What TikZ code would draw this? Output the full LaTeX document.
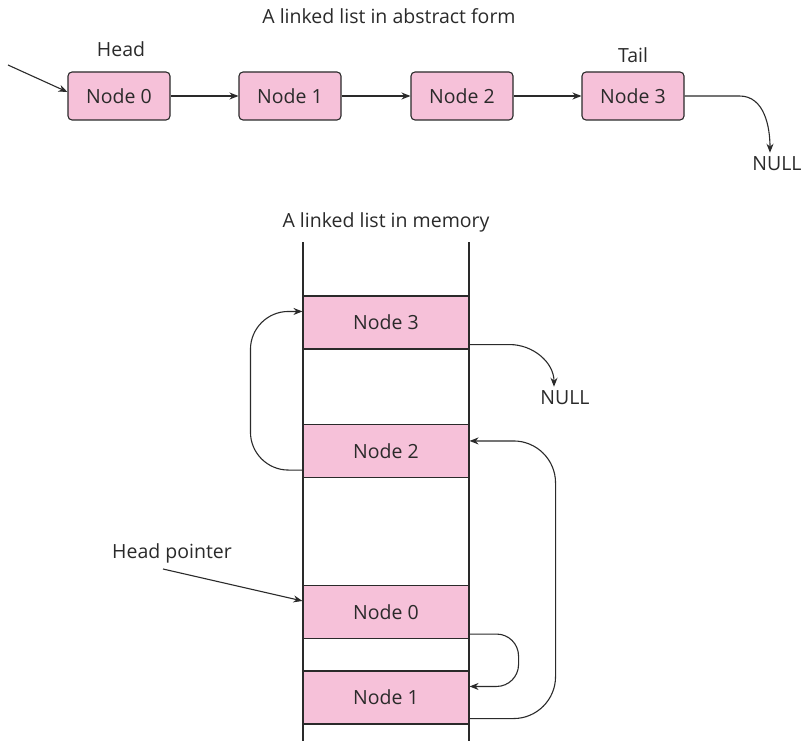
\documentclass[tikz,border=0pt]{standalone}
\usepackage{fontspec}
\setmainfont{Open Sans}
\usepackage{xcolor}
\usetikzlibrary{arrows.meta,positioning}
\definecolor{listpink}{HTML}{F6C1D9}
\definecolor{listline}{HTML}{2A2A2A}
\tikzset{
  listbox/.style={draw=listline,fill=listpink,rounded corners=4pt,line width=1.1pt,
    minimum width=102pt,minimum height=48pt,inner sep=0pt},
  membox/.style={draw=listline,fill=listpink,line width=1.1pt,
    minimum width=166pt,minimum height=53pt,inner sep=0pt},
  link/.style={draw=listline,line width=1.1pt,-{Stealth[length=9pt,width=7pt]}},
  lbl/.style={inner sep=1pt}
}
\begin{document}
\begin{tikzpicture}[x=1pt,y=-1pt,font=\fontsize{19.5}{22}\selectfont,text=listline]
\useasboundingbox (0,0) rectangle (805,741);
% abstract form
\node[lbl] (ttlA) at (389,16) {A linked list in abstract form};
\node[listbox] (n0) at (119,96) {Node 0};
\node[listbox] (n1) at (290,96) {Node 1};
\node[listbox] (n2) at (462,96) {Node 2};
\node[listbox] (n3) at (633,96) {Node 3};
\node[lbl] (head) at (121,49) {Head};
\node[lbl] (tail) at (633,55) {Tail};
\node[lbl] (nullA) at (777,164) {NULL};
\coordinate (hin) at (8,65);
\draw[link] (hin) -- ([yshift=4pt]n0.west);
\draw[link] (n0) -- (n1);
\draw[link] (n1) -- (n2);
\draw[link] (n2) -- (n3);
\draw[link] (n3.east) -- ++(55,0) to[out=0,in=90] ([xshift=-7pt,yshift=3pt]nullA.north);
% in memory
\node[lbl] (ttlB) at (386,222) {A linked list in memory};
\coordinate (wl) at (303,242);
\coordinate (wr) at (469,242);
\node[membox] (m3) at (386,322.5) {Node 3};
\node[membox] (m2) at (386,451) {Node 2};
\node[membox] (m0) at (386,612) {Node 0};
\node[membox] (m1) at (386,697.5) {Node 1};
\draw[listline,line width=1.1pt] (wl) -- ++(0,499) (wr) -- ++(0,499);
\node[lbl] (nullB) at (565,398) {NULL};
\node[lbl] (hptr) at (172,553) {Head pointer};
\coordinate (hpin) at (163,569);
\draw[link] (hpin) -- ([yshift=-16pt]m0.north west);
\draw[link] ([yshift=5pt]m3.south east) -- ++(40,0) to[out=0,in=90] ([xshift=-11pt,yshift=3pt]nullB.north);
\draw[link,rounded corners=38pt] ([yshift=8pt]m2.south west) -- ++(-52,0) |- ([yshift=-16pt]m3.north west);
\draw[link,rounded corners=42pt] ([yshift=6pt]m1.south east) -- ++(86,0) |- ([yshift=-17pt]m2.north east);
\draw[link,rounded corners=22pt] ([yshift=5pt]m0.south east) -- ++(49,0) |- ([yshift=-16pt]m1.north east);
\end{tikzpicture}
\end{document}
